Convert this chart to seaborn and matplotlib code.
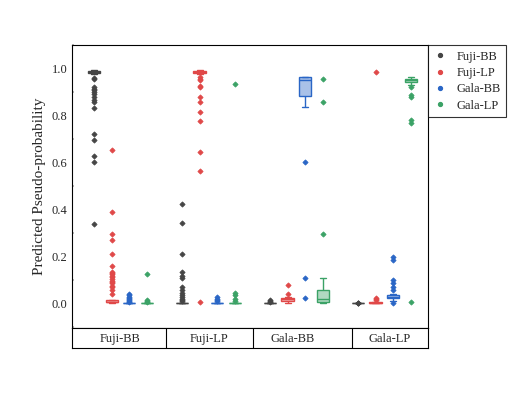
import numpy as np
import pandas as pd
import matplotlib
matplotlib.use("Agg")
import matplotlib.pyplot as plt
import seaborn as sns
from matplotlib.lines import Line2D
from matplotlib.ticker import MultipleLocator, FormatStrFormatter
from matplotlib.colors import to_rgba

CLASSES = ["Fuji-BB", "Fuji-LP", "Gala-BB", "Gala-LP"]
COLORS = ["#454545", "#e04848", "#2a66c6", "#3ba266"]

# pseudo-probabilities, named <true class>_<predicted class>
# true Fuji-BB
fbb_fbb = ([0.978] * 2 + [0.982] * 14 + [0.985] * 14 + [0.988] * 14 + [0.991] * 14 + [0.994] * 2
           + [0.960, 0.955, 0.922, 0.915, 0.907, 0.899, 0.893, 0.879, 0.868, 0.859,
              0.832, 0.721, 0.697, 0.628, 0.603, 0.338])
fbb_flp = ([0.000] * 14 + [0.003] * 14 + [0.006] * 14 + [0.009] * 14 + [0.012] * 4
           + [0.652, 0.388, 0.295, 0.269, 0.208, 0.158, 0.134, 0.128, 0.123, 0.118,
              0.110, 0.102, 0.095, 0.090, 0.084, 0.075, 0.067, 0.055, 0.041])
fbb_gbb = ([0.000] * 30 + [0.001] * 20 + [0.002] * 20
           + [0.006, 0.010, 0.014, 0.018, 0.022, 0.028, 0.034, 0.040])
fbb_glp = [0.000] * 35 + [0.001] * 20 + [0.002] * 15 + [0.006, 0.010, 0.014, 0.123]

# true Fuji-LP
flp_fbb = ([0.000] * 30 + [0.001] * 20 + [0.002] * 15
           + [0.009, 0.014, 0.020, 0.027, 0.034, 0.045, 0.056, 0.067, 0.107, 0.117,
              0.131, 0.211, 0.342, 0.424])
flp_flp = ([0.979] * 2 + [0.983] * 12 + [0.986] * 12 + [0.989] * 12 + [0.992] * 12 + [0.995] * 2
           + [0.964, 0.956, 0.950, 0.927, 0.920, 0.879, 0.856, 0.815, 0.778, 0.645,
              0.563, 0.005])
flp_gbb = [0.000] * 30 + [0.001] * 20 + [0.002] * 15 + [0.008, 0.012, 0.018, 0.025]
flp_glp = [0.000] * 30 + [0.001] * 20 + [0.002] * 15 + [0.010, 0.020, 0.034, 0.045, 0.933]

# true Gala-BB
gbb_fbb = [0.000] * 14 + [0.001] * 4 + [0.002] * 2 + [0.006, 0.010, 0.015]
gbb_flp = [0.002, 0.005, 0.007, 0.009, 0.010, 0.010, 0.011, 0.012, 0.013, 0.014, 0.015, 0.016,
           0.017, 0.018, 0.019, 0.020, 0.021, 0.023, 0.024, 0.026, 0.028, 0.041, 0.077]
gbb_gbb = [0.023, 0.108, 0.604, 0.836, 0.860, 0.878, 0.886, 0.905, 0.925, 0.938, 0.945, 0.950,
           0.953, 0.956, 0.959, 0.961, 0.962, 0.964, 0.964, 0.964, 0.964, 0.964, 0.964]
gbb_glp = [0.000, 0.002, 0.003, 0.004, 0.005, 0.006, 0.006, 0.008, 0.010, 0.012, 0.014, 0.016,
           0.020, 0.025, 0.032, 0.045, 0.052, 0.060, 0.075, 0.108, 0.295, 0.860, 0.957]

# true Gala-LP
glp_fbb = [0.000] * 20 + [0.001] * 3
glp_flp = [0.000] * 8 + [0.002] * 5 + [0.003] * 3 + [0.004] * 3 + [0.012, 0.017, 0.021, 0.984]
glp_gbb = [0.000, 0.010, 0.014, 0.017, 0.019, 0.020, 0.021, 0.021, 0.022, 0.023, 0.024, 0.025,
           0.026, 0.027, 0.027, 0.028, 0.029, 0.030, 0.031, 0.032, 0.032, 0.033, 0.033, 0.034,
           0.038, 0.056, 0.070, 0.087, 0.098, 0.184, 0.198]
glp_glp = [0.005, 0.768, 0.782, 0.880, 0.889, 0.920, 0.931, 0.942, 0.944, 0.945, 0.946, 0.947,
           0.948, 0.949, 0.949, 0.950, 0.950, 0.951, 0.951, 0.952, 0.953, 0.954, 0.955, 0.955,
           0.956, 0.957, 0.958, 0.959, 0.960, 0.962, 0.965]

table = [
    [fbb_fbb, fbb_flp, fbb_gbb, fbb_glp],
    [flp_fbb, flp_flp, flp_gbb, flp_glp],
    [gbb_fbb, gbb_flp, gbb_gbb, gbb_glp],
    [glp_fbb, glp_flp, glp_gbb, glp_glp],
]

rows = []
for true_cls, preds in zip(CLASSES, table):
    for pred_cls, vals in zip(CLASSES, preds):
        for v in vals:
            rows.append((true_cls, pred_cls, v))
df = pd.DataFrame(rows, columns=["true", "pred", "prob"])

sns.set_style("white")
plt.rcParams["font.family"] = ["Liberation Serif", "DejaVu Serif"]

fig = plt.figure(figsize=(5.17, 3.96), dpi=100)
ax = fig.add_axes([0.1387, 0.171, 0.6897, 0.7154])

sns.boxplot(data=df, x="true", y="prob", hue="pred", order=CLASSES, hue_order=CLASSES,
            palette=COLORS, width=0.8, gap=0.3, whis=1.5, linewidth=1, fliersize=2.7,
            flierprops=dict(marker="D"), legend=False, ax=ax)

# outline every box in its own colour, light fill
for cont, c in zip(ax.containers, COLORS):
    for b in cont.boxes:
        b.set_facecolor(to_rgba(c, 0.4))
        b.set_edgecolor(c)
    for art in list(cont.medians) + list(cont.whiskers) + list(cont.caps):
        art.set_color(c)
    for f in cont.fliers:
        f.set_markerfacecolor(c)
        f.set_markeredgecolor(c)
        f.set_markeredgewidth(0.5)

ax.set_xlim(-0.555, 3.5)
ax.set_ylim(-0.107, 1.101)
ax.set_xticks([])
ax.set_xlabel("")
ax.set_yticks([0.0, 0.2, 0.4, 0.6, 0.8, 1.0])
ax.yaxis.set_major_formatter(FormatStrFormatter("%.1f"))
ax.yaxis.set_minor_locator(MultipleLocator(0.1))
ax.tick_params(axis="y", which="major", direction="in", length=3, width=0.8,
               color="#888888", labelsize=9, pad=3)
ax.tick_params(axis="y", which="minor", direction="in", length=1.5, width=1.2,
               color="#aaaaaa", left=True)
ax.set_ylabel("Predicted Pseudo-probability", fontsize=11, labelpad=4)
for s in ax.spines.values():
    s.set_color("black")
    s.set_linewidth(0.8)

# category band under the plot
band = fig.add_axes([0.1387, 0.122, 0.6897, 0.049])
band.set_xlim(ax.get_xlim())
band.set_ylim(0, 1)
band.set_xticks([])
band.set_yticks([])
for s in band.spines.values():
    s.set_color("black")
    s.set_linewidth(0.8)
for sep in [0.514, 1.503, 2.629]:
    band.axvline(sep, color="black", lw=0.8)
for pos, lab in zip([-0.006, 1.006, 1.961, 3.064], CLASSES):
    band.text(pos, 0.45, lab, ha="center", va="center", fontsize=9)

handles = [Line2D([0], [0], marker="o", ls="", color=c, markersize=2.8) for c in COLORS]
leg = ax.legend(handles, CLASSES, loc="upper left", bbox_to_anchor=(1, 1), borderaxespad=0,
                frameon=True, fancybox=False, edgecolor="black", fontsize=9,
                handlelength=1.0, handletextpad=0.8, labelspacing=0.35, borderpad=0.45)
leg.get_frame().set_linewidth(0.8)

fig.savefig("out.png", dpi=100)
